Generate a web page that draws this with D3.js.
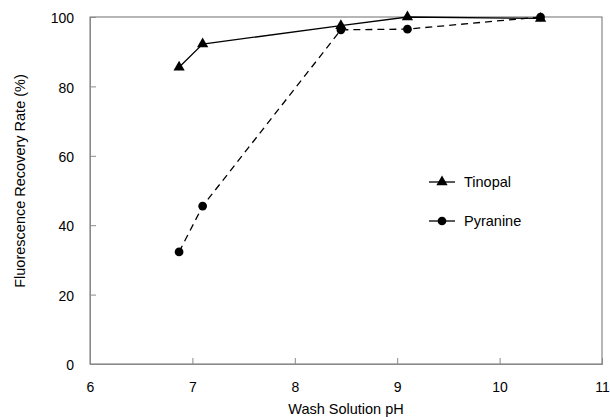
<!DOCTYPE html>
<html>
<head>
<meta charset="utf-8">
<script src="https://cdn.jsdelivr.net/npm/d3@7"></script>
<style>
  body { margin: 0; background: #fff; }
  text { font-family: "Liberation Sans", Arial, sans-serif; fill: #000; }
</style>
</head>
<body>
<div id="viz"></div>
<script>
const phValues = [6.87, 7.1, 8.45, 9.1, 10.4];
const tinopal = [85.5, 92.2, 97.5, 100, 99.6];
const pyranine = [32.3, 45.5, 96.3, 96.5, 100];
const xTicks = [6, 7, 8, 9, 10, 11];
const yTicks = [0, 20, 40, 60, 80, 100];

const width = 610;
const height = 417;
const margin = { left: 90, right: 8, top: 17, bottom: 53 };

const svg = d3.select("#viz").append("svg")
    .attr("width", width)
    .attr("height", height);

const x = d3.scaleLinear().domain([6, 11]).range([margin.left, width - margin.right]);
const y = d3.scaleLinear().domain([0, 100]).range([height - margin.bottom, margin.top]);

// frame
svg.append("rect")
    .attr("x", x(6))
    .attr("y", y(100))
    .attr("width", x(11) - x(6))
    .attr("height", y(0) - y(100))
    .attr("fill", "none")
    .attr("stroke", "#6e6e6e")
    .attr("stroke-width", 1);

// axes (ticks point inward)
const xAxis = svg.append("g")
    .attr("transform", `translate(0,${y(0)})`)
    .call(d3.axisBottom(x).tickValues(xTicks).tickSize(-6).tickPadding(18).tickFormat(d3.format("d")));
const yAxis = svg.append("g")
    .attr("transform", `translate(${x(6)},0)`)
    .call(d3.axisLeft(y).tickValues(yTicks).tickSize(-6).tickPadding(16).tickFormat(d3.format("d")));

[xAxis, yAxis].forEach(g => {
    g.select(".domain").attr("stroke", "#8a8a8a");
    g.selectAll(".tick line").attr("stroke", "#8a8a8a");
    g.selectAll(".tick text").style("font-size", "14px").attr("fill", "#000");
});
yAxis.selectAll(".tick text").attr("dy", "0.4em");

// axis titles
svg.append("text")
    .attr("x", (x(6) + x(11)) / 2)
    .attr("y", 414)
    .attr("text-anchor", "middle")
    .style("font-size", "14.5px")
    .text("Wash Solution pH");

svg.append("text")
    .attr("transform", `translate(25,181) rotate(-90)`)
    .attr("text-anchor", "middle")
    .style("font-size", "14.5px")
    .text("Fluorescence Recovery Rate (%)");

const line = d3.line().x(d => x(d[0])).y(d => y(d[1]));
const tri = d3.symbol().type(d3.symbolTriangle).size(55);
const dot = d3.symbol().type(d3.symbolCircle).size(60);

const series = [
    { name: "Tinopal", values: tinopal, dash: null, symbol: tri },
    { name: "Pyranine", values: pyranine, dash: "7,5", symbol: dot }
];

series.forEach(s => {
    const pts = phValues.map((p, i) => [p, s.values[i]]);
    svg.append("path")
        .datum(pts)
        .attr("d", line)
        .attr("fill", "none")
        .attr("stroke", "#000")
        .attr("stroke-width", 1.3)
        .attr("stroke-dasharray", s.dash);
    svg.selectAll(null)
        .data(pts)
        .join("path")
            .attr("transform", d => `translate(${x(d[0])},${y(d[1])})`)
            .attr("d", s.symbol)
            .attr("fill", "#000");
});

// legend
const legend = svg.append("g").attr("transform", "translate(429,182)");
series.forEach((s, i) => {
    const g = legend.append("g").attr("transform", `translate(0,${i * 39})`);
    g.append("line")
        .attr("x1", 0).attr("x2", 26)
        .attr("stroke", "#000").attr("stroke-width", 1.3);
    g.append("path")
        .attr("transform", "translate(13,0)")
        .attr("d", s.symbol)
        .attr("fill", "#000");
    g.append("text")
        .attr("x", 35)
        .attr("dy", "0.35em")
        .style("font-size", "14.5px")
        .text(s.name);
});
</script>
</body>
</html>
